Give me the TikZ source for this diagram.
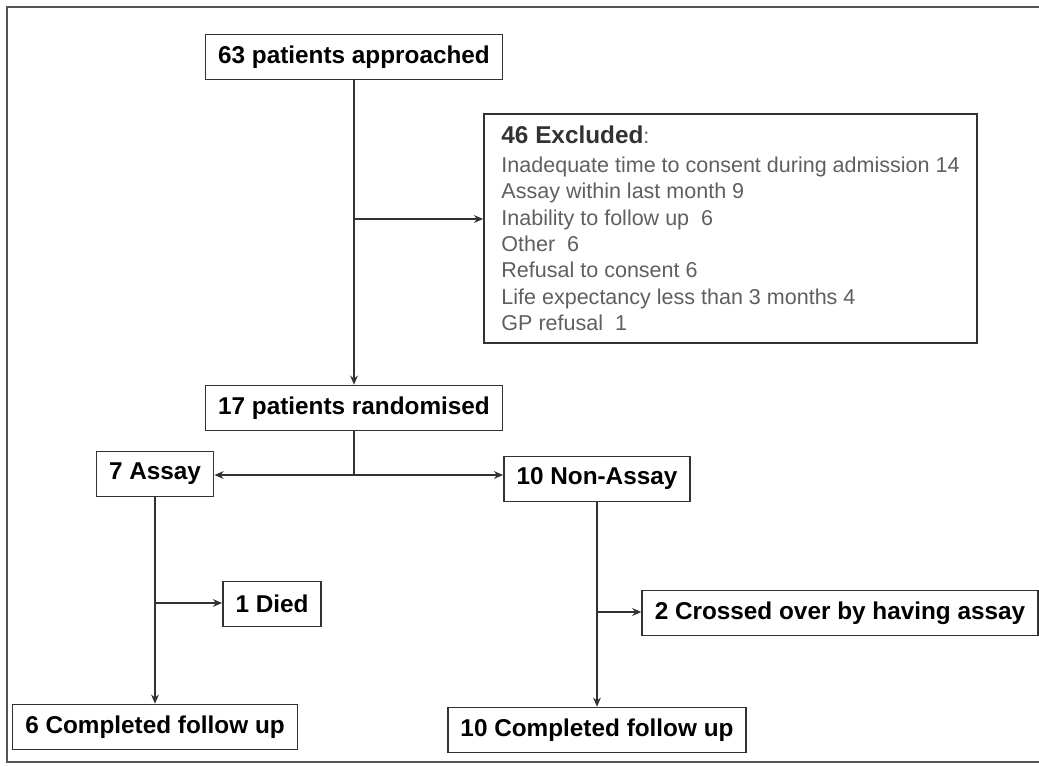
\documentclass[tikz,border=0pt]{standalone}
\usepackage{fontspec}
\setmainfont{Liberation Sans}
\usepackage{tikz}
\usetikzlibrary{arrows.meta,positioning,calc}
\definecolor{frameGray}{RGB}{85,85,85}
\definecolor{boxGray}{RGB}{50,50,50}
\definecolor{listGray}{RGB}{95,95,95}

\begin{document}
\begin{tikzpicture}[x=0.025cm,y=-0.025cm,
    stage/.style={draw=boxGray, line width=1.1pt, fill=white, inner xsep=9pt,
      inner ysep=0pt, minimum height=32pt, font=\fontsize{17.3}{20}\selectfont\bfseries},
    flow/.style={-{Stealth[length=6.5pt,width=5.5pt]}, line width=1.1pt, boxGray},
    link/.style={line width=1.1pt, boxGray}]
  \useasboundingbox (0,0) rectangle (1039,765);
  % outer frame
  \draw[frameGray, line width=1pt] (1060,7) -- (7,7) -- (7,762) -- (1060,762);
  % top row
  \node[stage] (appr) at (354,57) {63 patients approached};
  \node[draw=boxGray, line width=1.1pt, minimum width=12.325cm, minimum height=5.725cm,
        align=left, inner sep=0pt, text=listGray,
        font=\fontsize{15.3}{18.8}\selectfont] (excl) at (730.5,228.5) {
    {\fontsize{17.3}{20}\selectfont\bfseries\color{boxGray}46 Excluded}:\\[1.5pt]
    Inadequate time to consent during admission 14\\
    Assay within last month 9\\
    Inability to follow up~~6\\
    Other~~6\\
    Refusal to consent 6\\
    Life expectancy less than 3 months 4\\
    GP refusal~~1
  };
  % randomisation
  \node[stage] (rand) at (354,408) {17 patients randomised};
  \node[stage] (assay) at (155,474) {7 Assay};
  \node[stage] (nonassay) at (597,479) {10 Non-Assay};
  % outcomes
  \node[stage] (died) at (272,604) {1 Died};
  \node[stage] (crossed) at (840,613) {2 Crossed over by having assay};
  \node[stage] (done6) at (155,727) {6 Completed follow up};
  \node[stage] (done10) at (597,730) {10 Completed follow up};
  % connectors
  \draw[flow] (appr) -- (rand);
  \coordinate (exsplit) at (354,219);
  \draw[flow] (exsplit) -- (exsplit -| excl.west);
  \coordinate (rsplit) at (354,475);
  \draw[link] (rand) -- (rsplit);
  \draw[flow] (rsplit) -- (rsplit -| assay.east);
  \draw[flow] (rsplit) -- (rsplit -| nonassay.west);
  \draw[flow] (assay) -- (done6);
  \coordinate (dsplit) at (155,603);
  \draw[flow] (dsplit) -- (dsplit -| died.west);
  \draw[flow] (nonassay) -- (done10);
  \coordinate (csplit) at (597,612);
  \draw[flow] (csplit) -- (csplit -| crossed.west);
\end{tikzpicture}
\end{document}
